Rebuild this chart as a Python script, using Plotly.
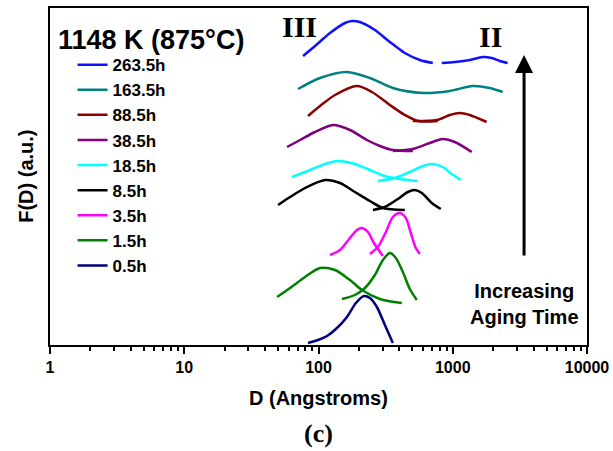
import plotly.graph_objects as go

# Size distributions F(D) (a.u.) vs D (Angstroms), stacked by aging time at 1148 K
labels = ["263.5h", "163.5h", "88.5h", "38.5h", "18.5h", "8.5h", "3.5h", "1.5h", "0.5h"]
colors = ["#1010ff", "#008080", "#8b0000", "#800080", "#00ffff", "#000000", "#ff00ff", "#008000", "#000080"]

d_263 = [[76.7, 94.2, 121.8, 157.4, 177.5, 203.5, 263.1, 340.1, 439.7, 568.5, 710],
         [828, 1035, 1338, 1671, 1950, 2236, 2564]]
f_263 = [[28.9, 29.9, 31.2, 32.2, 32.4, 32.3, 31.5, 30.3, 29.2, 28.5, 28.2],
         [28.2, 28.3, 28.5, 28.8, 28.7, 28.4, 28.2]]

d_163 = [[70.4, 102.6, 162.9, 241.5, 358.1, 598.4, 950.2, 1409, 1884, 2353]]
f_163 = [[25.6, 26.7, 27.3, 26.7, 25.7, 25.2, 25.4, 25.9, 25.7, 25.3]]

d_88 = [[83.5, 102.6, 132.7, 193.3, 250.0, 340.1, 439.7, 549.4, 773.5],
        [504.2, 760.3, 950.2, 1127, 1338, 1789]]
f_88 = [[22.9, 23.9, 25.0, 25.9, 25.3, 24.0, 23.0, 22.4, 22.4],
        [22.4, 22.5, 23.0, 23.2, 23.0, 22.3]]

d_38 = [[58.3, 72.9, 94.2, 128.2, 171.5, 229.4, 286.6, 358.1, 504.2],
        [358.1, 504.2, 674.5, 842.9, 1035, 1385]]
f_38 = [[19.8, 20.5, 21.3, 22.0, 21.5, 20.5, 19.9, 19.5, 19.4],
        [19.4, 19.6, 20.2, 20.6, 20.3, 19.3]]

d_18 = [[63.5, 86.5, 111.8, 139.6, 186.8, 241.5, 312.2, 403.6, 549.4],
        [277.0, 370.6, 479.0, 598.4, 710.0, 842.9, 983.1, 1147]]
f_18 = [[16.8, 17.5, 18.1, 18.4, 18.1, 17.5, 16.9, 16.6, 16.4],
        [16.4, 16.7, 17.3, 17.9, 18.1, 17.8, 17.1, 16.5]]

d_8 = [[50.0, 61.4, 79.4, 111.8, 144.5, 186.8, 241.5, 301.7, 439.7],
       [254.2, 312.2, 390.1, 462.8, 521.8, 588.3, 698.0, 814.3]]
f_8 = [[14.0, 14.8, 15.7, 16.5, 16.2, 15.3, 14.4, 13.7, 13.5],
       [13.5, 13.8, 14.6, 15.3, 15.5, 15.2, 14.2, 13.6]]

d_3 = [[121.8, 144.5, 171.5, 193.3, 210.6, 233.4, 258.6, 301.7],
       [241.5, 277.0, 317.6, 358.1, 403.6, 447.3, 487.2, 530.8, 568.5]]
f_3 = [[9.0, 9.5, 10.7, 11.5, 11.7, 11.3, 10.2, 8.9],
       [9.1, 9.8, 11.3, 12.8, 13.2, 12.7, 11.2, 9.7, 9.1]]

d_1 = [[49.1, 61.4, 79.4, 102.6, 132.7, 171.5, 210.6, 286.6, 417.7],
       [149.5, 186.8, 221.7, 263.1, 301.7, 340.1, 377.0, 425.0, 479.0, 540.0]]
f_1 = [[4.8, 5.7, 6.8, 7.7, 7.5, 6.5, 5.5, 4.6, 4.2],
       [4.6, 5.0, 5.7, 7.0, 8.5, 9.2, 8.7, 7.3, 5.6, 4.5]]

d_05 = [[83.5, 99.2, 115.7, 137.3, 162.9, 190.0, 217.9, 241.5, 272.2, 312.2, 358.1]]
f_05 = [[0.2, 0.5, 0.9, 1.7, 2.8, 4.2, 4.9, 4.7, 3.8, 2.0, 0.2]]

series_d = [d_263, d_163, d_88, d_38, d_18, d_8, d_3, d_1, d_05]
series_f = [f_263, f_163, f_88, f_38, f_18, f_8, f_3, f_1, f_05]

x_ticks = [1, 10, 100, 1000, 10000]
x_ticktext = ["1", "10", "100", "1000", "10000"]

SANS = "Liberation Sans, Arial, sans-serif"
SERIF = "Liberation Serif, Times New Roman, serif"

fig = go.Figure()
for lab, col, dsegs, fsegs in zip(labels, colors, series_d, series_f):
    xs, ys = [], []
    for i, (ds, fs) in enumerate(zip(dsegs, fsegs)):
        if i > 0:
            xs.append(None)
            ys.append(None)
        xs.extend(ds)
        ys.extend(fs)
    fig.add_trace(go.Scatter(x=xs, y=ys, mode="lines", name=lab,
                             line=dict(color=col, width=2.5, shape="spline", smoothing=0.8),
                             connectgaps=False))

fig.update_layout(
    width=613, height=451,
    margin=dict(l=49.5, r=26, t=8, b=106, autoexpand=False),
    paper_bgcolor="white", plot_bgcolor="white",
    showlegend=True,
    legend=dict(x=0.042, y=0.884, xanchor="left", yanchor="top",
                font=dict(family=SANS, size=17, color="black", weight="bold"),
                bgcolor="rgba(0,0,0,0)", borderwidth=0, itemwidth=30,
                traceorder="normal", tracegroupgap=0),
    xaxis=dict(type="log", range=[0, 4], tickvals=x_ticks, ticktext=x_ticktext,
               automargin=False,
               ticks="outside", ticklen=7, tickwidth=2, tickcolor="black",
               showline=True, linewidth=2, linecolor="black", mirror=True,
               showgrid=False, zeroline=False,
               tickfont=dict(family=SANS, size=16, color="black", weight="bold"),
               minor=dict(ticks="outside", ticklen=4, tickwidth=2, tickcolor="black",
                          dtick="D1", showgrid=False)),
    yaxis=dict(range=[0, 33.7], showticklabels=False, ticks="", automargin=False,
               showline=True, linewidth=2, linecolor="black", mirror=True,
               showgrid=False, zeroline=False),
    annotations=[
        dict(text="1148 K (875\u00b0C)", xref="paper", yref="paper", x=0.012, y=0.905,
             xanchor="left", yanchor="middle", showarrow=False,
             font=dict(family=SANS, size=27, color="black", weight="bold")),
        dict(text="III", xref="paper", yref="paper", x=0.464, y=0.944,
             xanchor="center", yanchor="middle", showarrow=False,
             font=dict(family=SERIF, size=30, color="black", weight="bold")),
        dict(text="II", xref="paper", yref="paper", x=0.8195, y=0.914,
             xanchor="center", yanchor="middle", showarrow=False,
             font=dict(family=SERIF, size=30, color="black", weight="bold")),
        dict(text="", xref="paper", yref="paper", x=0.8828, y=0.8605,
             axref="pixel", ayref="pixel", ax=0, ay=202, showarrow=True,
             arrowhead=2, arrowsize=1.2, arrowwidth=3, arrowcolor="black"),
        dict(text="Increasing<br>Aging Time", xref="paper", yref="paper", x=0.8828, y=0.122,
             xanchor="center", yanchor="middle", showarrow=False, align="center",
             font=dict(family=SANS, size=20, color="black", weight="bold")),
        dict(text="F(D) (a.u.)", xref="paper", yref="paper", x=-0.046, y=0.5,
             xanchor="center", yanchor="middle", textangle=-90, showarrow=False,
             font=dict(family=SANS, size=20, color="black", weight="bold")),
        dict(text="D (Angstroms)", xref="paper", yref="paper", x=0.5, y=-0.157,
             xanchor="center", yanchor="middle", showarrow=False,
             font=dict(family=SANS, size=20, color="black", weight="bold")),
        dict(text="(c)", xref="paper", yref="paper", x=0.5, y=-0.262,
             xanchor="center", yanchor="middle", showarrow=False,
             font=dict(family=SERIF, size=26, color="black", weight="bold")),
    ],
)

fig.write_html("out.html", config={"displayModeBar": False},
               post_script="document.body.style.margin='0';document.body.style.padding='0';")
